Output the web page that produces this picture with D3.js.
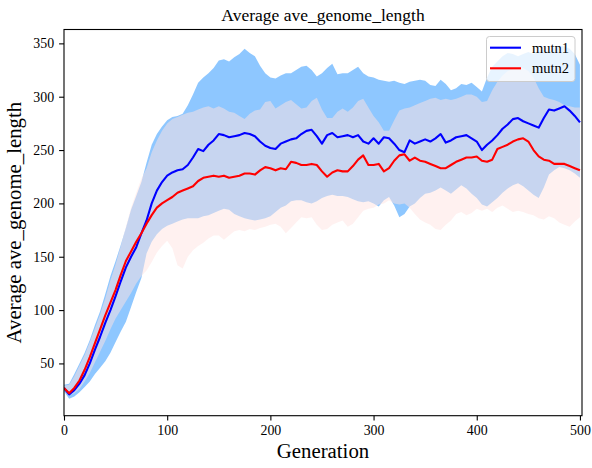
<!DOCTYPE html>
<html><head><meta charset="utf-8">
<script src="https://cdn.jsdelivr.net/npm/d3@7"></script>
<style>body{margin:0;background:#fff}svg{display:block}text{font-family:"Liberation Serif","Times New Roman",serif;}</style>
</head><body><svg id="c" width="592" height="468"></svg>
<script>
const generations = [0,5,10,15,20,25,30,35,40,45,50,55,60,65,70,75,80,85,90,95,100,105,110,115,120,125,130,135,140,145,150,155,160,165,170,175,180,185,190,195,200,205,210,215,220,225,230,235,240,245,250,255,260,265,270,275,280,285,290,295,300,305,310,315,320,325,330,335,340,345,350,355,360,365,370,375,380,385,390,395,400,405,410,415,420,425,430,435,440,445,450,455,460,465,470,475,480,485,490,495,500];
const mutn1Mean = [27,21,25,31,39,50,63,75,88,100, 113,127,140,150,159,172,184,200,212,220, 226,229,231,232,236,243,251,249,255,259, 265,264,262,263,264,266,265,263,258,254, 252,251,256,258,260,261,265,268,269,263, 256,264,266,262,263,264,262,264,258,256, 261,256,262,261,256,250,248,259,256,258, 260,258,261,265,257,259,262,263,264,261, 258,250,255,259,264,270,274,279,280,277, 275,273,271,280,288,287,289,291,287,282, 276];
const mutn2Mean = [27,22,27,34,44,56,69,82,95,107, 119,133,146,155,164,172,181,189,196,200, 203,206,210,212,214,216,221,224,225,226, 225,226,224,225,226,228,228,227,231,234, 233,231,233,232,239,238,236,236,237,236, 230,225,229,231,230,230,235,241,245,236, 236,237,230,233,240,245,246,240,243,240, 239,237,235,233,233,236,239,241,243,243, 244,240,239,241,251,253,255,258,260,261, 258,250,244,241,240,237,237,237,235,233, 231];
const mutn1Upper = [30,31,40,50,60,72,86,99,115,132, 146,161,177,194,207,220,238,255,265,272, 278,281,282,284,292,302,313,318,322,327, 334,335,333,337,340,345,341,338,329,322, 318,317,320,322,322,325,328,329,325,319, 322,327,331,321,322,322,325,328,322,319, 318,316,315,314,315,313,312,314,315,316, 315,311,310,316,312,306,308,312,311,313, 309,305,318,328,333,338,341,340,338,340, 342,340,343,344,342,346,348,347,345,340, 330];
const mutn1Lower = [24,17,19,23,28,33,40,46,52,60, 70,80,89,103,117,130,153,164,171,176, 179,181,183,185,186,186,186,188,189,191, 193,195,194,190,188,186,185,184,185,186, 188,192,196,198,202,203,203,201,200,202, 205,207,208,207,207,206,204,202,201,202, 200,197,203,206,198,187,190,197,200,205, 209,210,212,215,212,209,213,217,214,209, 205,199,197,201,205,210,214,217,219,216, 212,208,205,215,227,231,234,233,231,228, 224];
const mutn2Upper = [29,30,38,48,58,70,83,96,111,128, 143,160,178,196,210,223,233,248,259,268, 275,279,281,283,285,286,288,290,291,289, 291,289,286,285,282,279,284,287,288,295, 296,289,292,295,297,293,289,290,296,299, 288,280,280,286,289,286,290,296,298,290, 282,276,268,268,278,287,289,290,292,294, 296,298,299,297,298,297,298,300,302,302, 300,295,296,306,314,320,324,326,328,327, 324,318,308,300,298,297,295,292,291,290, 290];
const mutn2Lower = [25,20,22,26,33,41,51,61,71,82, 92,100,108,116,125,132,137,145,154,160, 165,158,142,139,150,156,160,163,167,170, 170,166,170,174,175,174,176,175,177,178, 180,181,178,172,177,182,187,186,187,180, 175,176,180,182,184,178,181,187,193,195, 196,199,200,203,200,199,200,196,190,185, 182,180,176,175,180,184,190,192,189,191, 195,193,195,192,196,198,195,192,193,192, 190,189,186,185,188,186,182,180,178,183, 187];
const xTicks = [0,100,200,300,400,500];
const yTicks = [50,100,150,200,250,300,350];
const seriesNames = ["mutn1","mutn2"];

const L=64, R=582, T=29.5, B=415.7;
const svg = d3.select("#c");
svg.append("rect").attr("width",592).attr("height",468).attr("fill","#fff");
const x = d3.scaleLinear().domain([0,502]).range([L,R]);
const y = d3.scaleLinear().domain([1,363]).range([B,T]);

svg.append("clipPath").attr("id","clip").append("rect")
  .attr("x",L).attr("y",T).attr("width",R-L).attr("height",B-T);
const plot = svg.append("g").attr("clip-path","url(#clip)");

function band(lo, hi){
  return d3.area().x((d,i)=>x(generations[i])).y0((d,i)=>y(lo[i])).y1((d,i)=>y(hi[i]))(generations);
}
function line(vals){
  return d3.line().x((d,i)=>x(generations[i])).y((d,i)=>y(vals[i]))(generations);
}
plot.append("path").attr("d",band(mutn1Lower,mutn1Upper)).attr("fill","dodgerblue").attr("fill-opacity",0.5);
plot.append("path").attr("d",band(mutn2Lower,mutn2Upper)).attr("fill","mistyrose").attr("fill-opacity",0.5);
plot.append("path").attr("d",line(mutn1Mean)).attr("fill","none").attr("stroke","#0000ff").attr("stroke-width",2.1).attr("stroke-linejoin","round");
plot.append("path").attr("d",line(mutn2Mean)).attr("fill","none").attr("stroke","#ff0000").attr("stroke-width",2.1).attr("stroke-linejoin","round");

const xa = svg.append("g").attr("transform",`translate(0,${B})`)
  .call(d3.axisBottom(x).tickValues(xTicks).tickSize(4.9).tickPadding(4.9).tickSizeOuter(0));
const ya = svg.append("g").attr("transform",`translate(${L},0)`)
  .call(d3.axisLeft(y).tickValues(yTicks).tickSize(4.9).tickPadding(4.9).tickSizeOuter(0));
[xa,ya].forEach(g=>{
  g.attr("font-family",null).attr("font-size",null);
  g.select(".domain").remove();
  g.selectAll("line").attr("stroke","#000").attr("stroke-width",1.1);
  g.selectAll("text").attr("fill","#000").style("font-size","13.9px").style("font-family",'"Liberation Serif","Times New Roman",serif');
});
svg.append("rect").attr("x",L).attr("y",T).attr("width",R-L).attr("height",B-T)
  .attr("fill","none").attr("stroke","#000").attr("stroke-width",1.1);

svg.append("text").attr("x",(L+R)/2).attr("y",21).attr("text-anchor","middle")
  .style("font-size","17.5px").text("Average ave_genome_length");
svg.append("text").attr("x",(L+R)/2).attr("y",458).attr("text-anchor","middle")
  .style("font-size","20.8px").text("Generation");
svg.append("text").attr("transform",`translate(21,${(T+B)/2}) rotate(-90)`).attr("text-anchor","middle")
  .style("font-size","20.8px").text("Average ave_genome_length");

const leg = svg.append("g");
leg.append("rect").attr("x",486.5).attr("y",36.5).attr("width",88.5).attr("height",45).attr("rx",3)
  .attr("fill","#fff").attr("fill-opacity",0.8).attr("stroke","#cccccc").attr("stroke-width",1);
const legColors = ["#0000ff","#ff0000"];
seriesNames.forEach((n,i)=>{
  const yy = 47.7 + i*20.6;
  leg.append("line").attr("x1",490).attr("x2",521).attr("y1",yy).attr("y2",yy)
    .attr("stroke",legColors[i]).attr("stroke-width",2.1);
  leg.append("text").attr("x",532).attr("y",yy+5).style("font-size","14.5px").text(n);
});
</script></body></html>
